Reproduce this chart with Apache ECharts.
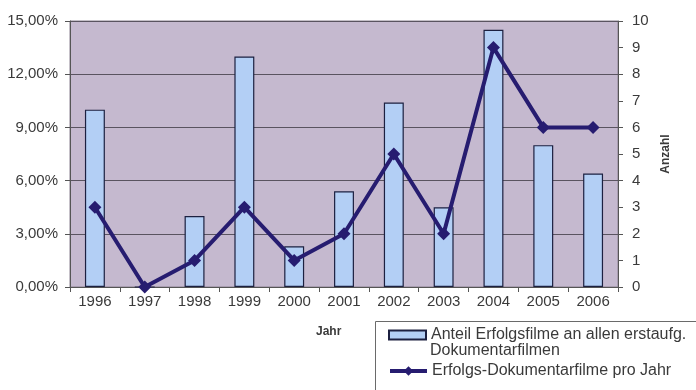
<!DOCTYPE html>
<html>
<head>
<meta charset="utf-8">
<script src="https://cdn.jsdelivr.net/npm/echarts@6/dist/echarts.min.js"></script>
<style>
  html, body { margin: 0; padding: 0; background: #ffffff; }
  #chart { width: 696px; height: 390px; }
</style>
</head>
<body>
<div id="chart"></div>
<script>
// Years on the category axis
const years = ['1996', '1997', '1998', '1999', '2000', '2001', '2002', '2003', '2004', '2005', '2006'];
// Share of successful films among all first-released documentaries (fraction)
const shareValues = [0.100, 0.000, 0.040, 0.130, 0.023, 0.054, 0.104, 0.045, 0.145, 0.080, 0.064];
// Number of successful documentaries per year
const countValues = [3, 0, 1, 3, 1, 2, 5, 2, 9, 6, 6];

const barName = 'Anteil Erfolgsfilme an allen erstaufg. Dokumentarfilmen';
const lineName = 'Erfolgs-Dokumentarfilme pro Jahr';

const FONT = '"Liberation Sans", Arial, sans-serif';
const TEXT = '#3a3a3a';
const NAVY = '#261c70';

const chart = echarts.init(document.getElementById('chart'), null, { renderer: 'canvas' });

chart.setOption({
  animation: false,
  backgroundColor: '#ffffff',
  textStyle: { fontFamily: FONT },
  grid: {
    left: 70, right: 78, top: 21, bottom: 103,
    show: true,
    backgroundColor: '#c5b9cf',
    borderColor: '#8a8090',
    borderWidth: 1
  },
  legend: [
    {
      data: [{ name: barName, icon: 'rect' }],
      left: 383, top: 322,
      itemWidth: 37, itemHeight: 9,
      itemGap: 0,
      formatter: () => 'Anteil Erfolgsfilme an allen erstaufg.',
      textStyle: { fontFamily: FONT, fontSize: 16, color: TEXT }
    },
    {
      data: [lineName],
      left: 383, top: 358,
      itemWidth: 37, itemHeight: 12,
      lineStyle: { width: 4 },
      textStyle: { fontFamily: FONT, fontSize: 16, color: TEXT }
    }
  ],
  graphic: [
    {
      type: 'rect', left: 375, top: 321, z: -1,
      shape: { width: 340, height: 90 },
      style: { fill: '#ffffff', stroke: '#6a6a6a', lineWidth: 1 }
    },
    {
      type: 'text', left: 430, top: 343,
      style: { text: 'Dokumentarfilmen', font: '16px ' + FONT, fill: TEXT }
    },
    {
      type: 'text', left: 316, top: 326,
      style: { text: 'Jahr', font: 'bold 12px ' + FONT, fill: TEXT }
    }
  ],
  xAxis: {
    type: 'category',
    data: years,
    boundaryGap: true,
    axisLine: { lineStyle: { color: '#555555', width: 1 } },
    axisTick: { show: true, length: 5, lineStyle: { color: '#555555' } },
    axisLabel: { color: TEXT, fontSize: 15, fontFamily: FONT, margin: 7 }
  },
  yAxis: [
    {
      type: 'value',
      min: 0, max: 0.15, interval: 0.03,
      axisLine: { show: true, lineStyle: { color: '#555555' } },
      axisTick: { show: true, length: 5, lineStyle: { color: '#555555' } },
      axisLabel: {
        color: TEXT, fontSize: 15, fontFamily: FONT, margin: 12,
        formatter: v => (v * 100).toFixed(2).replace('.', ',') + '%'
      },
      splitLine: { show: true, lineStyle: { color: '#5a5460', width: 1 } }
    },
    {
      type: 'value',
      min: 0, max: 10, interval: 1,
      name: 'Anzahl',
      nameLocation: 'middle',
      nameGap: 42,
      nameRotate: 90,
      nameTextStyle: { color: TEXT, fontSize: 12, fontWeight: 'bold', fontFamily: FONT },
      axisLine: { show: true, lineStyle: { color: '#555555' } },
      axisTick: { show: true, length: 5, lineStyle: { color: '#555555' } },
      axisLabel: { color: TEXT, fontSize: 15, fontFamily: FONT, margin: 14 },
      splitLine: { show: false }
    }
  ],
  series: [
    {
      name: barName,
      type: 'bar',
      yAxisIndex: 0,
      data: shareValues,
      barWidth: '40%',
      itemStyle: { color: '#b3cff5', borderColor: '#1c2040', borderWidth: 1.2 }
    },
    {
      name: lineName,
      type: 'line',
      yAxisIndex: 1,
      data: countValues,
      symbol: 'diamond',
      symbolSize: 13,
      itemStyle: { color: NAVY },
      lineStyle: { color: NAVY, width: 4 },
      z: 5
    }
  ]
});
</script>
</body>
</html>
